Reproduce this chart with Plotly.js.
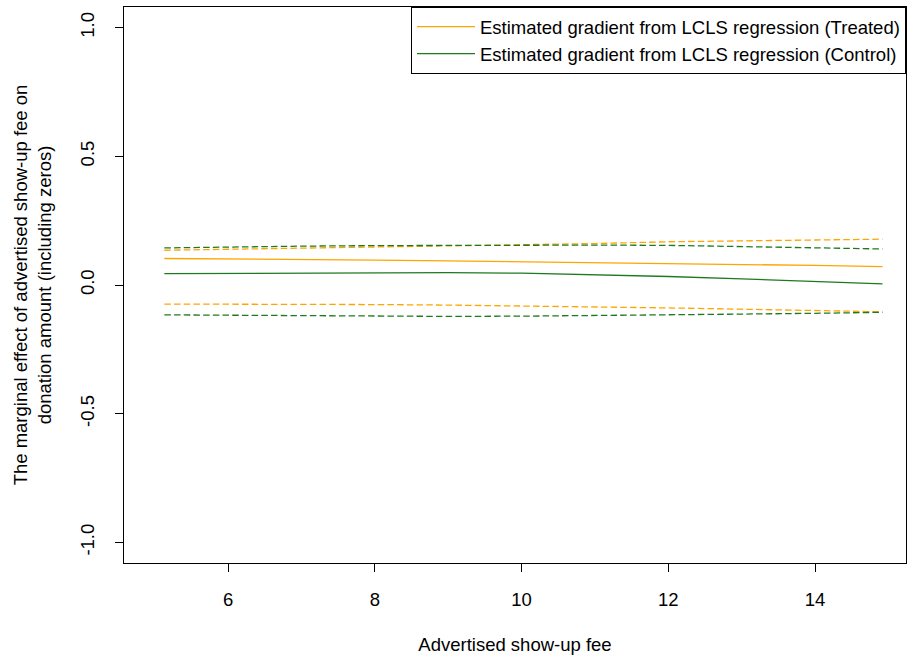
<!DOCTYPE html>
<html>
<head>
<meta charset="utf-8">
<script src="https://cdn.plot.ly/plotly-3.0.1.min.js"></script>
<style>body{margin:0;background:#fff;} #chart{width:910px;height:658px;}</style>
</head>
<body>
<div id="chart"></div>
<script>
// Advertised show-up fee grid
const fee = [5.13, 6, 7, 8, 9, 10, 11, 12, 13, 14, 14.92];
// Treated: estimate and band
const treatedEst   = [0.103, 0.102, 0.099, 0.097, 0.094, 0.091, 0.088, 0.084, 0.080, 0.076, 0.071];
const treatedUpper = [0.135, 0.139, 0.142, 0.146, 0.151, 0.156, 0.161, 0.168, 0.172, 0.176, 0.178];
const treatedLower = [-0.074, -0.074, -0.075, -0.076, -0.078, -0.081, -0.085, -0.089, -0.094, -0.099, -0.104];
// Control: estimate and band
const controlEst   = [0.044, 0.045, 0.047, 0.048, 0.048, 0.046, 0.040, 0.033, 0.024, 0.015, 0.004];
const controlUpper = [0.144, 0.148, 0.151, 0.153, 0.154, 0.155, 0.155, 0.154, 0.150, 0.146, 0.140];
const controlLower = [-0.116, -0.118, -0.120, -0.121, -0.122, -0.121, -0.119, -0.117, -0.113, -0.110, -0.106];

const seriesNames = ["Estimated gradient from LCLS regression (Treated)",
                     "Estimated gradient from LCLS regression (Control)"];
const xTicks = [6, 8, 10, 12, 14];
const yTicks = [-1.0, -0.5, 0.0, 0.5, 1.0];
const yTickText = ["-1.0", "-0.5", "0.0", "0.5", "1.0"];

const ORANGE = "#FFA500";
const GREEN = "#1f7a1f";
const DASH = "6.5px,3.2px";

const traces = [
  {x: fee, y: treatedEst, mode: "lines", name: seriesNames[0], line: {color: ORANGE, width: 1.3}},
  {x: fee, y: controlEst, mode: "lines", name: seriesNames[1], line: {color: GREEN, width: 1.3}},
  {x: fee, y: treatedUpper, mode: "lines", showlegend: false, line: {color: ORANGE, width: 1.3, dash: DASH}},
  {x: fee, y: treatedLower, mode: "lines", showlegend: false, line: {color: ORANGE, width: 1.3, dash: DASH}},
  {x: fee, y: controlUpper, mode: "lines", showlegend: false, line: {color: GREEN, width: 1.3, dash: DASH}},
  {x: fee, y: controlLower, mode: "lines", showlegend: false, line: {color: GREEN, width: 1.3, dash: DASH}}
];

const FONT = "Liberation Sans, Arial, sans-serif";
const FS = 18.5;
const layout = {
  width: 910, height: 658,
  margin: {l: 124, r: 4, t: 7, b: 95},
  paper_bgcolor: "#fff", plot_bgcolor: "#fff",
  font: {family: FONT, size: FS, color: "#000"},
  showlegend: true,
  legend: {
    x: 1, y: 1, xanchor: "right", yanchor: "top",
    bordercolor: "#000", borderwidth: 1, bgcolor: "#fff",
    font: {family: FONT, size: FS, color: "#000"},
    tracegroupgap: 0, itemwidth: 58
  },
  xaxis: {
    range: [4.58, 15.24],
    tickvals: xTicks, ticktext: xTicks.map(String),
    ticks: "outside", ticklen: 8, tickcolor: "#000", tickwidth: 1,
    showline: true, mirror: true, linecolor: "#000", linewidth: 1,
    showgrid: false, zeroline: false,
    ticklabelstandoff: 12,
    tickfont: {family: FONT, size: FS, color: "#000"},
    title: {text: "Advertised show-up fee", font: {family: FONT, size: FS, color: "#000"}, standoff: 28}
  },
  yaxis: {
    range: [-1.08, 1.08],
    tickvals: yTicks, ticktext: yTickText, tickangle: -90,
    ticks: "outside", ticklen: 8, tickcolor: "#000", tickwidth: 1,
    showline: true, mirror: true, linecolor: "#000", linewidth: 1,
    showgrid: false, zeroline: false,
    ticklabelstandoff: 14,
    tickfont: {family: FONT, size: FS, color: "#000"},
    title: {text: "The marginal effect of advertised show-up fee on<br>donation amount (including zeros)",
            font: {family: FONT, size: FS, color: "#000"}, standoff: 20}
  }
};

Plotly.newPlot("chart", traces, layout, {displayModeBar: false, staticPlot: true});
</script>
</body>
</html>
